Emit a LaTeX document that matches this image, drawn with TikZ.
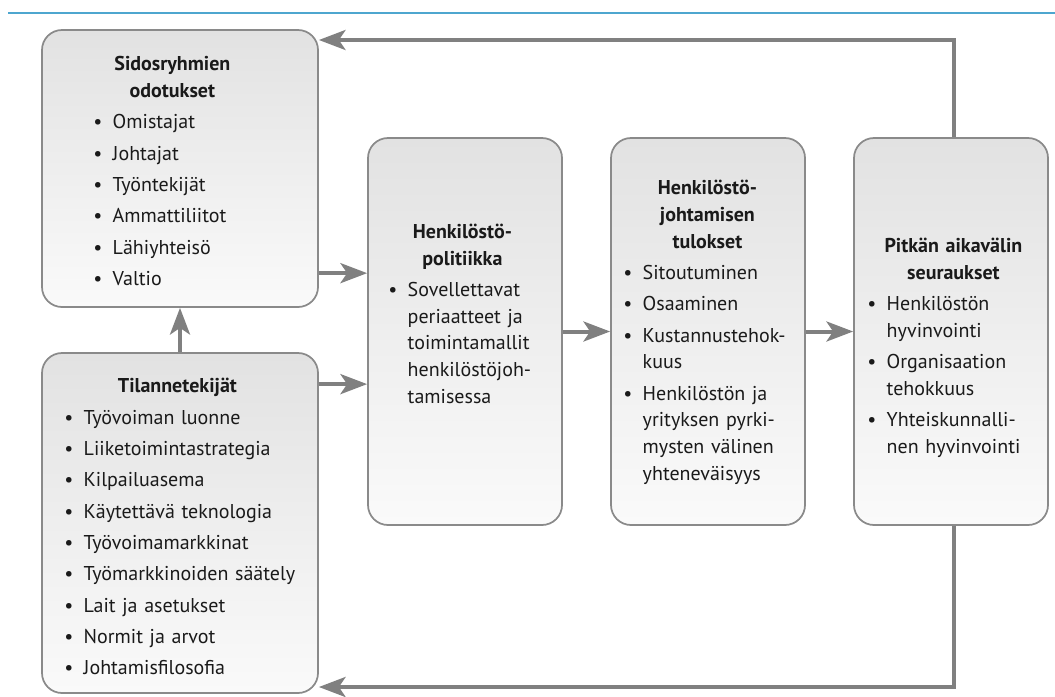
\documentclass[tikz,border=0pt]{standalone}
\usepackage{fontspec}
\setmainfont{PT Sans}
\usetikzlibrary{positioning,arrows.meta}

\definecolor{boxline}{HTML}{8A8A8A}
\definecolor{boxtop}{HTML}{E2E2E2}
\definecolor{boxbot}{HTML}{FAFAFA}
\definecolor{arrgray}{HTML}{808080}
\definecolor{rule}{HTML}{4DA6CF}
\definecolor{ink}{HTML}{1A1A1A}

\setlength{\parindent}{0pt}
\hyphenpenalty=10000
\exhyphenpenalty=10000

% heading and bullet item inside a box
\newcommand{\hd}[2][0pt]{{\centering\bfseries\hspace*{#1}#2\par}\vspace{3.5pt}}
\newcommand{\itm}[1]{\par\hangindent=14.5pt\hangafter=1\noindent
  \makebox[14.5pt][l]{\textbullet}#1\par\vspace{3.5pt}}

\begin{document}
\begin{tikzpicture}
		[
			x=0.75pt, y=-0.75pt,
			box/.style = {rectangle, rounded corners=15pt, draw=boxline, line width=1.3pt,
				top color=boxtop, bottom color=boxbot, inner sep=0pt},
			txt/.style = {inner sep=0pt, align=left, text=ink,
				font=\fontsize{15}{20}\selectfont},
			arr/.style = {draw=arrgray, line width=3pt,
				-{Stealth[length=20pt,width=15pt,inset=5pt]}},
		]
		\useasboundingbox (0,0) rectangle (1055,696);

		% rule at the top
		\draw[rule, line width=1.6pt] (8,13) -- (1055,13);

		% boxes
		\node[box, minimum width=207pt, minimum height=207.75pt] (sidos)   at (180,168.5) {};
		\node[box, minimum width=207pt, minimum height=255pt]    (tilanne) at (180,523) {};
		\node[box, minimum width=145.5pt, minimum height=290.25pt] (polit) at (465,331.5) {};
		\node[box, minimum width=145.5pt, minimum height=290.25pt] (tulos) at (708,331.5) {};
		\node[box, minimum width=145.5pt, minimum height=290.25pt] (seur)  at (951,331.5) {};

		% texts
		\node[txt, text width=118.5pt, below right=20.25pt and 39pt of sidos.north west] (sidos-t) {%
			\hd{Sidosryhmien\\odotukset}
			\itm{Omistajat}\itm{Johtajat}\itm{Työntekijät}
			\itm{Ammattiliitot}\itm{Lähiyhteisö}\itm{Valtio}};
		\node[txt, text width=180pt, below right=19.5pt and 17.25pt of tilanne.north west] (tilanne-t) {%
			\hd[-10.5pt]{Tilannetekijät}
			\itm{Työvoiman luonne}\itm{Liiketoimintastrategia}\itm{Kilpailuasema}
			\itm{Käytettävä teknologia}\itm{Työvoimamarkkinat}
			\itm{Työmarkkinoiden säätely}\itm{Lait ja asetukset}
			\itm{Normit ja arvot}\itm{Johtamisfilosofia}};
		\node[txt, text width=111pt, below right=65pt and 15.75pt of polit.north west] (polit-t) {%
			\hd{Henkilöstö-\\politiikka}
			\itm{Sovellettavat\newline periaatteet ja\newline toimintamallit\newline
				henkilöstöjoh-\newline tamisessa}};
		\node[txt, text width=126pt, below right=32.25pt and 9.75pt of tulos.north west] (tulos-t) {%
			\hd{Henkilöstö-\\johtamisen\\tulokset}
			\itm{Sitoutuminen}\itm{Osaaminen}\itm{Kustannustehok-\newline kuus}
			\itm{Henkilöstön ja\newline yrityksen pyrki-\newline mysten välinen\newline
				yhteneväisyys}};
		\node[txt, text width=129pt, below right=75.5pt and 10.5pt of seur.north west] (seur-t) {%
			\hd{Pitkän aikavälin\\seuraukset}
			\itm{Henkilöstön\newline hyvinvointi}\itm{Organisaation\newline tehokkuus}
			\itm{Yhteiskunnalli-\newline nen hyvinvointi}};

		% arrows between boxes
		\draw[arr] (sidos.-37.7) -- (sidos.-37.7 -| polit.west);
		\draw[arr] (tilanne.45) -- (tilanne.45 -| polit.west);
		\draw[arr] (tilanne.north) -- (sidos.south);
		\foreach \from/\to in {polit/tulos,tulos/seur}
		\draw[arr] (\from.east) -- (\to.west);

		% feedback loop
		\coordinate (top) at (954,40);
		\coordinate (bot) at (954,687);
		\draw[arr] (seur.north -| top) -- (top) -- (top -| sidos.east);
		\draw[arr] (seur.south -| bot) -- (bot) -- (bot -| tilanne.east);

		\end{tikzpicture}
\end{document}
